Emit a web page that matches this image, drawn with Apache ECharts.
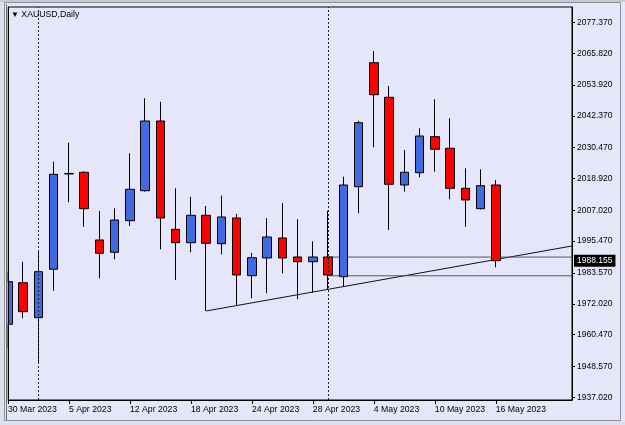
<!DOCTYPE html>
<html>
<head>
<meta charset="UTF-8">
<title>XAUUSD,Daily</title>
<script src="https://cdn.jsdelivr.net/npm/echarts@6/dist/echarts.min.js"></script>
<style>
html, body { margin: 0; padding: 0; background: #dce4ef; }
#chart { width: 625px; height: 425px; }
</style>
</head>
<body>
<div id="chart"></div>
<script>
// daily bars, last 5 slots are the empty chart shift on the right
var dates = ['30 Mar 2023', '31 Mar 2023', '3 Apr 2023', '4 Apr 2023', '5 Apr 2023', '6 Apr 2023',
	'10 Apr 2023', '11 Apr 2023', '12 Apr 2023', '13 Apr 2023', '14 Apr 2023', '17 Apr 2023',
	'18 Apr 2023', '19 Apr 2023', '20 Apr 2023', '21 Apr 2023', '24 Apr 2023', '25 Apr 2023',
	'26 Apr 2023', '27 Apr 2023', '28 Apr 2023', '1 May 2023', '2 May 2023', '3 May 2023',
	'4 May 2023', '5 May 2023', '8 May 2023', '9 May 2023', '10 May 2023', '11 May 2023',
	'12 May 2023', '15 May 2023', '16 May 2023', '', '', '', '', ''];
var opens  = [1964.35, 1979.91, 1966.82, 1984.93, 2020.60, 2021.23, 1995.90, 1991.29, 2003.12, 2014.35,
	2040.43, 1999.90, 1994.88, 2005.14, 1994.51, 2004.13, 1982.53, 1989.16, 1996.64, 1989.53,
	1987.77, 1989.53, 1982.16, 2015.84, 2062.25, 2049.30, 2016.48, 2021.08, 2034.56, 2030.21,
	2015.24, 2007.61, 2016.48];
var closes = [1980.29, 1969.06, 1984.03, 2020.48, 2020.80, 2007.61, 1990.92, 2003.38, 2014.87, 2040.43,
	2004.13, 1994.88, 2005.14, 1994.66, 2004.50, 1982.80, 1989.27, 1997.02, 1989.16, 1987.77,
	1989.53, 1982.80, 2016.48, 2039.80, 2050.27, 2016.74, 2021.23, 2034.82, 2029.84, 2015.24,
	2010.87, 2016.22, 1988.155];
var lows   = [1955.36, 1966.59, 1949.75, 1976.92, 2010.00, 2000.87, 1981.56, 1988.67, 2001.13, 2013.97,
	1992.41, 1980.93, 1991.29, 1969.32, 1990.54, 1971.57, 1974.08, 1975.95, 1983.43, 1973.70,
	1976.17, 1977.18, 1978.68, 2005.89, 2030.59, 1999.64, 2013.97, 2019.36, 2021.46, 2011.13,
	2000.87, 2007.30, 1985.68];
var highs  = [1984.03, 1987.77, 1991.78, 2025.20, 2032.31, 2021.61, 2006.75, 2007.76, 2028.34, 2048.93,
	2047.65, 2015.24, 2012.10, 2008.62, 2012.47, 2005.63, 1991.14, 2004.02, 2009.74, 2003.64,
	1995.41, 2006.86, 2019.59, 2040.54, 2066.63, 2053.53, 2029.58, 2037.70, 2048.55, 2041.44,
	2022.73, 2022.36, 2018.35];

var priceTicks = [1937.02, 1948.57, 1960.47, 1972.02, 1983.57, 1995.47, 2007.02, 2018.92,
	2030.47, 2042.37, 2053.92, 2065.82, 2077.37];
var bidPrice = 1988.155;
var monthStarts = [2, 21];                       // 3 Apr, 1 May
var trendLine = [[13, 1969.32], [37, 1993.65]];
var levelHigh = [[20.7, 1989.5], [37, 1989.5]];
var levelLow  = [[20.7, 1982.5], [37, 1982.5]];

var candles = [];
for (var i = 0; i < opens.length; i++) {
	candles.push([opens[i], closes[i], lows[i], highs[i]]);
}

var chart = echarts.init(document.getElementById('chart'));
var font = 'Liberation Sans';

var sepLines = monthStarts.map(function (idx) {
	return { xAxis: idx, lineStyle: { color: '#222', type: [2, 2], width: 1 }, label: { show: false } };
});

var option = {
	animation: false,
	backgroundColor: '#E6E6FA',
	title: {
		text: '{t|▼} XAUUSD,Daily',
		left: 6, top: 5,
		textStyle: {
			fontFamily: font, fontSize: 8.7, fontWeight: 'normal', color: '#000',
			rich: { t: { fontSize: 8, fontFamily: font, color: '#000' } }
		}
	},
	graphic: [
		{ type: 'rect', z: 100, shape: { x: 0, y: 0, width: 7.5, height: 425 }, style: { fill: '#E6E6FA' }, silent: true },
		{ type: 'rect', z: 101, shape: { x: 0, y: 0, width: 4, height: 425 }, style: { fill: '#D9E1EC' }, silent: true },
		{ type: 'rect', z: 101, shape: { x: 0, y: 421, width: 625, height: 4 }, style: { fill: '#D9E1EC' }, silent: true },
		{ type: 'rect', z: 101, shape: { x: 0, y: 0, width: 625, height: 2 }, style: { fill: '#C4C9D2' }, silent: true },
		{ type: 'rect', z: 102, shape: { x: 4.5, y: 2.5, width: 616, height: 418 }, style: { fill: 'none', stroke: '#8E8E96', lineWidth: 1 }, silent: true },
		{ type: 'line', z: 102, shape: { x1: 6.5, y1: 4, x2: 6.5, y2: 420 }, style: { stroke: '#6A6A72', lineWidth: 1 }, silent: true },
		{ type: 'line', z: 102, shape: { x1: 8.5, y1: 7, x2: 8.5, y2: 400 }, style: { stroke: '#000', lineWidth: 1 }, silent: true }
	],
	grid: {
		left: 8, right: 53, top: 7, bottom: 25,
		show: true, backgroundColor: '#E6E6FA', borderColor: '#000', borderWidth: 1
	},
	xAxis: {
		type: 'category',
		data: dates,
		boundaryGap: false,
		axisLine: { lineStyle: { color: '#000', width: 1 } },
		axisTick: {
			length: 4, lineStyle: { color: '#000' },
			interval: function (idx) { return idx % 4 === 0 && idx <= 32; }
		},
		axisLabel: {
			interval: function (idx) { return idx % 4 === 0 && idx <= 32; },
			align: 'left', margin: 5,
			fontFamily: font, fontSize: 8.7, color: '#000'
		},
		splitLine: { show: false }
	},
	yAxis: {
		type: 'value',
		position: 'right',
		min: 1936.0, max: 2083.1,
		axisLine: { show: true, lineStyle: { color: '#000', width: 1 } },
		axisTick: { show: true, length: 3, customValues: priceTicks, lineStyle: { color: '#000' } },
		axisLabel: {
			customValues: priceTicks, margin: 5,
			fontFamily: font, fontSize: 8.5, color: '#000',
			formatter: function (v) { return v.toFixed(3); }
		},
		splitLine: { show: false }
	},
	series: [
		{
			type: 'line', data: trendLine, z: 1, symbol: 'none', silent: true,
			lineStyle: { color: '#111', width: 1 }
		},
		{
			type: 'line', data: levelHigh, z: 1, symbol: 'none', silent: true,
			lineStyle: { color: '#555', width: 1 }
		},
		{
			type: 'line', data: levelLow, z: 1, symbol: 'none', silent: true,
			lineStyle: { color: '#555', width: 1 }
		},
		{
			type: 'candlestick',
			data: candles,
			barWidth: 9,
			z: 3,
			itemStyle: {
				color: '#4169E1', color0: '#FF0000',
				borderColor: '#000', borderColor0: '#000', borderColorDoji: '#000',
				borderWidth: 1
			},
			markLine: {
				silent: true,
				symbol: ['none', 'none'],
				animation: false,
				data: sepLines.concat([{
					yAxis: bidPrice,
					lineStyle: { color: 'rgba(0,0,0,0)', width: 1 },
					label: {
						show: true, position: 'end', distance: 2,
						formatter: bidPrice.toFixed(3),
						backgroundColor: '#000', color: '#fff',
						fontFamily: font, fontSize: 8.5, padding: [2, 3, 1, 3]
					}
				}])
			}
		}
	]
};
chart.setOption(option);
</script>
</body>
</html>
